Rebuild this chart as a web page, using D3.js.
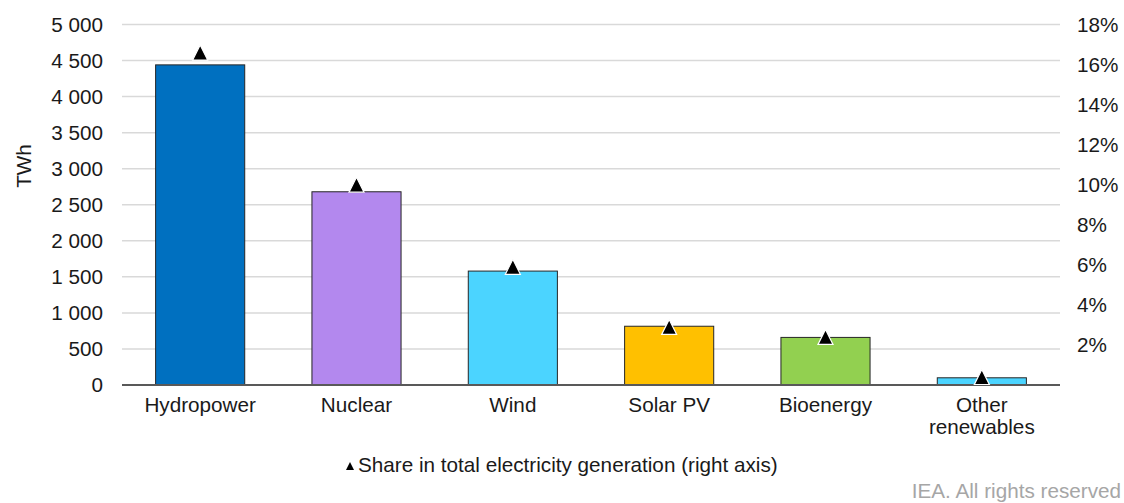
<!DOCTYPE html>
<html>
<head>
<meta charset="utf-8">
<script src="https://cdn.jsdelivr.net/npm/d3@7"></script>
<style>
  html, body { margin: 0; padding: 0; background: #fff; }
  svg { display: block; font-family: "Liberation Sans", Arial, sans-serif; }
</style>
</head>
<body>
<svg id="chart" width="1124" height="503"></svg>
<script>
// Electricity generation by source (TWh) and share in total generation (%)
const categories = ["Hydropower", "Nuclear", "Wind", "Solar PV", "Bioenergy", "Other renewables"];
const categoryLines = [["Hydropower"], ["Nuclear"], ["Wind"], ["Solar PV"], ["Bioenergy"], ["Other", "renewables"]];
const generationTWh = [4440, 2680, 1580, 815, 660, 100];
const sharePct = [16.6, 10.0, 5.9, 2.9, 2.4, 0.4];
const barColors = ["#0070C0", "#B388EE", "#4BD4FF", "#FFC000", "#92D050", "#4BD4FF"];
const leftTicks = [0, 500, 1000, 1500, 2000, 2500, 3000, 3500, 4000, 4500, 5000];
const rightTicks = [2, 4, 6, 8, 10, 12, 14, 16, 18];

const svg = d3.select("#chart");
const m = { left: 122, right: 1060, top: 24.5, bottom: 385 };
const fontSize = 20.7;

const x = d3.scaleBand().domain(categories).range([m.left, m.right]).paddingInner(0.43).paddingOuter(0.215);
const y = d3.scaleLinear().domain([0, 5000]).range([m.bottom, m.top]);
const y2 = d3.scaleLinear().domain([0, 18]).range([m.bottom, m.top]);

// Gridlines
svg.append("g")
  .selectAll("line")
  .data(leftTicks.filter(d => d > 0))
  .join("line")
  .attr("x1", m.left).attr("x2", m.right)
  .attr("y1", d => y(d)).attr("y2", d => y(d))
  .attr("stroke", "#d9d9d9").attr("stroke-width", 1.5);

// Left axis
const leftAxis = svg.append("g")
  .attr("transform", `translate(${m.left},0)`)
  .call(d3.axisLeft(y).tickValues(leftTicks).tickSize(0).tickPadding(19)
    .tickFormat(d => d3.format(",")(d).replace(/,/g, " ")));
leftAxis.select(".domain").remove();
leftAxis.selectAll("text").attr("font-size", fontSize).attr("fill", "#1a1a1a")
  .attr("font-family", "Liberation Sans, Arial, sans-serif");

// Right axis
const rightAxis = svg.append("g")
  .attr("transform", `translate(${m.right},0)`)
  .call(d3.axisRight(y2).tickValues(rightTicks).tickSize(0).tickPadding(17)
    .tickFormat(d => d + "%"));
rightAxis.select(".domain").remove();
rightAxis.selectAll("text").attr("font-size", fontSize).attr("fill", "#1a1a1a")
  .attr("font-family", "Liberation Sans, Arial, sans-serif");

// Axis title
svg.append("text")
  .attr("transform", `translate(31,166) rotate(-90)`)
  .attr("text-anchor", "middle")
  .attr("font-size", fontSize)
  .attr("fill", "#1a1a1a")
  .text("TWh");

// Bars
svg.append("g")
  .selectAll("rect")
  .data(categories)
  .join("rect")
  .attr("x", d => x(d))
  .attr("width", x.bandwidth())
  .attr("y", (d, i) => y(generationTWh[i]))
  .attr("height", (d, i) => y(0) - y(generationTWh[i]))
  .attr("fill", (d, i) => barColors[i])
  .attr("stroke", "#262626")
  .attr("stroke-width", 1);

// Baseline
svg.append("line")
  .attr("x1", m.left).attr("x2", m.right)
  .attr("y1", y(0)).attr("y2", y(0))
  .attr("stroke", "#595959").attr("stroke-width", 2);

// Share markers (right axis)
const tri = (cx, cy, w, h) => `M${cx},${cy - h / 2}L${cx + w / 2},${cy + h / 2}L${cx - w / 2},${cy + h / 2}Z`;
svg.append("g")
  .selectAll("path")
  .data(categories)
  .join("path")
  .attr("d", (d, i) => tri(x(d) + x.bandwidth() / 2, y2(sharePct[i]), 15, 15))
  .attr("fill", "#000")
  .attr("stroke", "#fff")
  .attr("stroke-width", 1.2)
  .attr("stroke-linejoin", "miter");

// Category labels
const catG = svg.append("g");
categories.forEach((c, i) => {
  const t = catG.append("text")
    .attr("x", x(c) + x.bandwidth() / 2)
    .attr("y", 412)
    .attr("text-anchor", "middle")
    .attr("font-size", fontSize)
    .attr("fill", "#1a1a1a");
  categoryLines[i].forEach((line, j) => {
    t.append("tspan").attr("x", x(c) + x.bandwidth() / 2).attr("dy", j === 0 ? 0 : 22).text(line);
  });
});

// Legend
svg.append("path").attr("d", tri(350, 466, 8, 8)).attr("fill", "#000");
svg.append("text")
  .attr("x", 358).attr("y", 472)
  .attr("font-size", fontSize)
  .attr("fill", "#1a1a1a")
  .text("Share in total electricity generation (right axis)");

// Source note
svg.append("text")
  .attr("x", 1121).attr("y", 498)
  .attr("text-anchor", "end")
  .attr("font-size", fontSize)
  .attr("fill", "#a6a6a6")
  .text("IEA. All rights reserved");
</script>
</body>
</html>
